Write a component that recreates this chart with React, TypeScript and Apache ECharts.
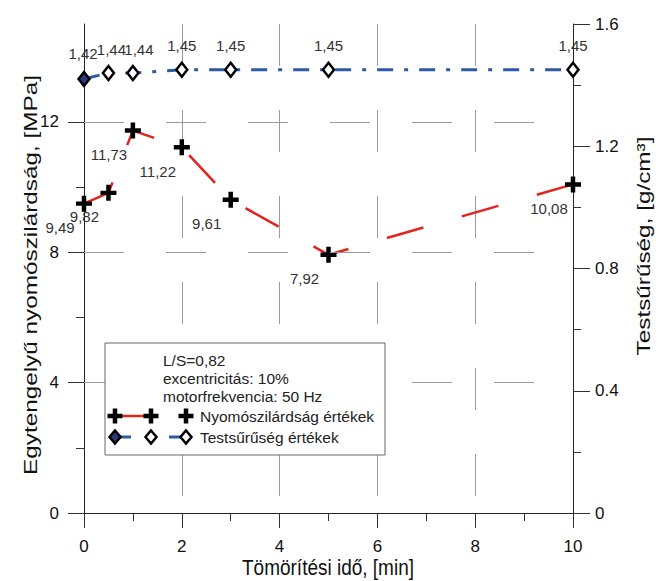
import React, { useEffect, useRef } from 'react';
import * as echarts from 'echarts';

// ---- data ----
const times = [0, 0.5, 1, 2, 3, 5, 10];
const strength = [9.49, 9.82, 11.73, 11.22, 9.61, 7.92, 10.08];
const density = [1.42, 1.44, 1.44, 1.45, 1.45, 1.45, 1.45];
const leftTickLabels = [0, 4, 8, 12];
const leftMinorTicks = [2, 6, 10];
const horizontalGrid = [4, 8, 12];
const noteLines = ['L/S=0,82', 'excentricitás: 10%', 'motorfrekvencia: 50 Hz'];
const legendNames = ['Nyomószilárdság értékek', 'Testsűrűség értékek'];
const xName = 'Tömörítési idő, [min]';
const leftName = 'Egytengelyű nyomószilárdság, [MPa]';
const rightName = 'Testsűrűség, [g/cm³]';

const FONT = '"Liberation Sans", Arial, Helvetica, sans-serif';
const RED = '#e3231d';
const BLUE = '#2b5aa6';
const NAVY = '#2c3a7c';
const PLUS = 'path://M3.6 0H6.4V3.6H10V6.4H6.4V10H3.6V6.4H0V3.6H3.6Z';
const STRETCH = 1.28;

const comma = (v: number) => v.toFixed(2).replace('.', ',');

function plusPoints(cx: number, cy: number, s: number, t: number) {
  const a = s / 2, b = t / 2;
  return [
    [cx - b, cy - a], [cx + b, cy - a], [cx + b, cy - b], [cx + a, cy - b],
    [cx + a, cy + b], [cx + b, cy + b], [cx + b, cy + a], [cx - b, cy + a],
    [cx - b, cy + b], [cx - a, cy + b], [cx - a, cy - b], [cx - b, cy - b],
  ];
}
function diamondPoints(cx: number, cy: number, w: number, h: number) {
  return [[cx, cy - h / 2], [cx + w / 2, cy], [cx, cy + h / 2], [cx - w / 2, cy]];
}

export default function App() {
  const ref = useRef<HTMLDivElement>(null);
  useEffect(() => {
    if (!ref.current) return;
    const chart = echarts.init(ref.current, undefined, { renderer: 'svg' });

    const densityLabelOffsets = [[-1, -26], [3, -23], [6, -23], [0, -24], [0, -24], [0, -24], [0, -24]];

    const legendX = 105, legendY = 343, legendW = 280, legendH = 112;
    const row1 = 416, row2 = 437;
    const mk = [115, 151, 186];
    const legendFont = `15.5px ${FONT}`;

    const graphics: any[] = [
      {
        type: 'rect', z: 20,
        shape: { x: legendX, y: legendY, width: legendW, height: legendH },
        style: { fill: '#fff', stroke: '#666', lineWidth: 1 },
      },
      ...noteLines.map((t, i) => ({
        type: 'text', z: 21, x: 163, y: 360 + i * 18,
        style: { text: t, fill: '#222', font: legendFont, verticalAlign: 'middle' },
      })),
      {
        type: 'line', z: 21,
        shape: { x1: mk[0], y1: row1, x2: mk[1], y2: row1 },
        style: { stroke: RED, lineWidth: 2.5 },
      },
      ...mk.map((x) => ({
        type: 'polygon', z: 22,
        shape: { points: plusPoints(x, row1, 15, 4.5) },
        style: { fill: '#000' },
      })),
      {
        type: 'text', z: 21, x: 200, y: row1,
        style: { text: legendNames[0], fill: '#222', font: legendFont, verticalAlign: 'middle' },
      },
      {
        type: 'line', z: 21,
        shape: { x1: mk[0], y1: row2, x2: mk[0] + 16, y2: row2 },
        style: { stroke: BLUE, lineWidth: 3 },
      },
      {
        type: 'line', z: 21,
        shape: { x1: mk[2] - 17, y1: row2, x2: mk[2], y2: row2 },
        style: { stroke: BLUE, lineWidth: 3 },
      },
      ...mk.map((x, i) => ({
        type: 'polygon', z: 22,
        shape: { points: diamondPoints(x, row2, 11, 13) },
        style: { fill: i === 0 ? NAVY : '#fff', stroke: '#000', lineWidth: 2.5 },
      })),
      {
        type: 'text', z: 21, x: 200, y: row2,
        style: { text: legendNames[1], fill: '#222', font: legendFont, verticalAlign: 'middle' },
      },
      // axis titles (the source picture is stretched vertically)
      {
        type: 'text', x: 30, y: 275, rotation: Math.PI / 2, scaleX: STRETCH, scaleY: 1,
        style: { text: leftName, fill: '#111', font: `19px ${FONT}`, align: 'center', verticalAlign: 'middle' },
      },
      {
        type: 'text', x: 643, y: 246, rotation: Math.PI / 2, scaleX: STRETCH, scaleY: 1,
        style: { text: rightName, fill: '#111', font: `19px ${FONT}`, align: 'center', verticalAlign: 'middle' },
      },
      {
        type: 'text', x: 328, y: 567, scaleX: 1, scaleY: 1.2,
        style: { text: xName, fill: '#111', font: `19px ${FONT}`, align: 'center', verticalAlign: 'middle' },
      },
    ];

    const option: any = {
      animation: false,
      backgroundColor: '#fff',
      textStyle: { fontFamily: FONT },
      grid: { left: 84, right: 92, top: 24, bottom: 68, containLabel: false },
      xAxis: {
        type: 'value', min: 0, max: 10, interval: 2,
        axisLine: { show: true, lineStyle: { color: '#222', width: 1 } },
        axisTick: { show: true, length: 15, lineStyle: { color: '#333', width: 1 } },
        minorTick: { show: true, splitNumber: 2, length: 8, lineStyle: { color: '#333', width: 1 } },
        axisLabel: { fontSize: 17, color: '#111', margin: 25, fontFamily: FONT },
        splitLine: { show: true, lineStyle: { color: '#9a9a9a', width: 1, type: [42, 44] } },
      },
      yAxis: [
        {
          type: 'value', min: 0, max: 15, interval: 4, position: 'left',
          axisLine: { show: true, lineStyle: { color: '#222', width: 1 } },
          axisTick: { show: true, length: 16, customValues: leftTickLabels, lineStyle: { color: '#333', width: 1 } },
          axisLabel: { fontSize: 17, color: '#111', margin: 25, customValues: leftTickLabels, fontFamily: FONT },
          splitLine: { show: false },
        },
        {
          type: 'value', min: 0, max: 15, position: 'left', offset: 0,
          axisLine: { show: false },
          axisTick: { show: true, length: 8, customValues: leftMinorTicks, lineStyle: { color: '#333', width: 1 } },
          axisLabel: { show: false },
          splitLine: { show: false },
        },
        {
          type: 'value', min: 0, max: 1.6, interval: 0.4, position: 'right',
          axisLine: { show: true, lineStyle: { color: '#222', width: 1 } },
          axisTick: { show: true, length: 17, lineStyle: { color: '#333', width: 1 } },
          minorTick: { show: true, splitNumber: 2, length: 8, lineStyle: { color: '#333', width: 1 } },
          axisLabel: { fontSize: 17, color: '#111', margin: 22, fontFamily: FONT },
          splitLine: { show: false },
        },
      ],
      series: [
        {
          type: 'line', yAxisIndex: 0, z: 1, silent: true,
          data: times.map((t, i) => [t, strength[i]]),
          showSymbol: false, symbol: 'none',
          lineStyle: { opacity: 0 },
          markLine: {
            silent: true, symbol: ['none', 'none'], label: { show: false },
            lineStyle: { color: '#9a9a9a', width: 1, type: [40, 42] },
            data: horizontalGrid.map((v) => ({ yAxis: v })),
          },
        },
        {
          type: 'line', yAxisIndex: 0, z: 3,
          data: times.map((t, i) => [t, strength[i]]),
          symbol: PLUS, symbolSize: 16,
          itemStyle: { color: '#000' },
          lineStyle: { color: RED, width: 2.5, type: [38, 40] },
          label: {
            show: true, position: 'inside', offset: [-24, 24],
            formatter: (p: any) => comma(p.value[1]),
            fontSize: 15, color: '#333', fontFamily: FONT,
          },
        },
        {
          type: 'line', yAxisIndex: 2, z: 4,
          data: times.map((t, i) => ({
            value: [t, density[i]],
            itemStyle: i === 0 ? { color: NAVY } : undefined,
            label: { offset: densityLabelOffsets[i] },
          })),
          symbol: 'diamond', symbolSize: [11, 14],
          itemStyle: { color: '#fff', borderColor: '#000', borderWidth: 2.5 },
          lineStyle: { color: BLUE, width: 3, type: [16, 11, 4, 11] },
          label: {
            show: true, position: 'inside',
            formatter: (p: any) => comma(p.value[1]),
            fontSize: 15, color: '#333', fontFamily: FONT,
          },
        },
      ],
      graphic: graphics,
    };

    chart.setOption(option);
    return () => chart.dispose();
  }, []);

  return (
    <div
      ref={ref}
      style={{ position: 'fixed', left: 0, top: 0, width: 665, height: 581, background: '#fff' }}
    />
  );
}
